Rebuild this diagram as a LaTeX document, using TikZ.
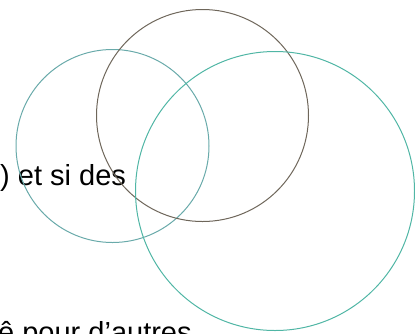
\documentclass[tikz,border=0pt]{standalone}
\usepackage{fontspec}
\setmainfont{Liberation Sans}
\definecolor{leftc}{RGB}{105,170,170}
\definecolor{topc}{RGB}{110,102,90}
\definecolor{bigc}{RGB}{80,182,165}
\tikzset{ring/.style={line width=1pt},
  lbl/.style={font=\fontsize{29}{32}\selectfont, inner sep=0pt, anchor=base west}}
\begin{document}
\begin{tikzpicture}[x=1pt,y=-1pt]
\useasboundingbox (0,0) rectangle (415,333);
\clip (0,0) rectangle (415,333);
\node[lbl] (t1) at (0,185) {) et si des};
\node[lbl] (t2) at (-2,342) {ê pour d’autres};
\draw[ring, leftc] (112.5,146) circle[radius=96.5];
\draw[ring, topc] (202.5,115.5) circle[radius=106];
\draw[ring, bigc] (275,191) circle[radius=139.5];
\end{tikzpicture}
\end{document}
